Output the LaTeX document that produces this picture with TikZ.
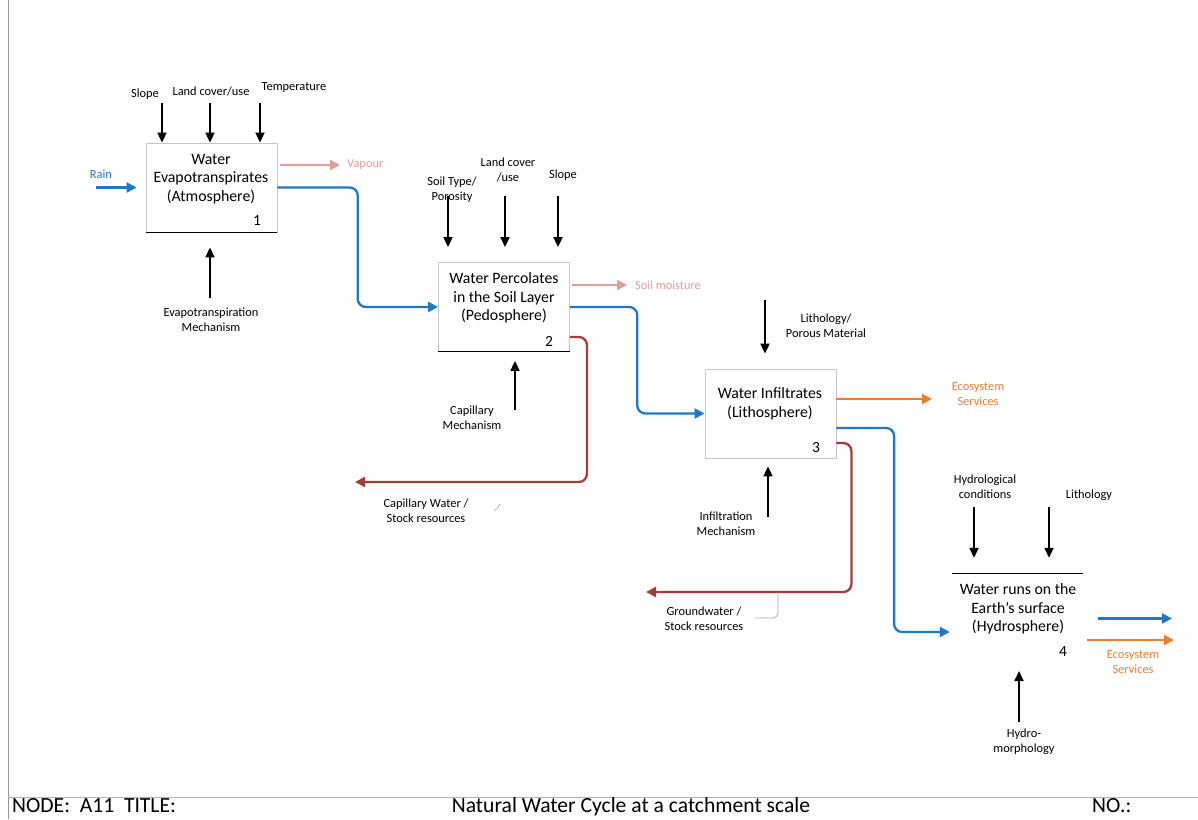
\documentclass[tikz,border=0pt]{standalone}
\usepackage{fontspec}
\setmainfont{Carlito}
\usetikzlibrary{arrows.meta,calc}
\definecolor{wblue}{HTML}{1F78C8}
\definecolor{wpink}{HTML}{E39C97}
\definecolor{wred}{HTML}{A33F38}
\definecolor{worange}{HTML}{EE7D2D}
\begin{document}
\begin{tikzpicture}[x=1pt,y=-1pt,
  procbox/.style={draw=gray!45, line width=0.8pt, minimum width=131pt, minimum height=89pt, inner sep=0pt, fill=white},
  boxtxt/.style={font=\fontsize{15.8}{18.5}\selectfont, align=center, inner sep=0pt},
  numlbl/.style={font=\fontsize{15.5}{17}\selectfont, inner sep=0pt},
  lbl/.style={font=\fontsize{12.4}{15}\selectfont, align=center, inner sep=0pt},
  foot/.style={font=\fontsize{21.6}{24}\selectfont, inner sep=0pt},
  ctrl/.style={draw=black, line width=1.8pt, -{Triangle[length=10pt,width=9pt]}},
  flow/.style={line width=2.3pt, rounded corners=8pt, -{Triangle[length=10pt,width=10pt]}},
  callout/.style={draw=gray!70, line width=0.7pt, rounded corners=5pt}
]
\useasboundingbox (0,0) rectangle (1198,819);

% sheet frame
\draw[gray!80, line width=0.8pt] (8,0) -- (8,819);
\draw[gray!60, line width=0.8pt] (8,797) -- (1198,797);
\node[foot, anchor=base west] (fnode) at (12,812.5) {NODE:\ \ A11\ \ TITLE:};
\node[foot, anchor=base] (ftitle) at (631,812.5) {Natural Water Cycle at a catchment scale};
\node[foot, anchor=base west] (fno) at (1092,812.5) {NO.:};

% ---- activity 1: atmosphere
\node[procbox] (b1) at (211.5,187.5) {};
\draw[line width=1pt] (b1.south west) -- (b1.south east);
\node[boxtxt] (b1t) at (211,179) {Water\\Evapotranspirates\\(Atmosphere)};
\node[numlbl] (b1n) at (257,221) {1};

\node[lbl] (l1a) at (145,94) {Slope};
\node[lbl] (l1b) at (211,91) {Land cover/use};
\node[lbl] (l1c) at (294,88) {Temperature};
\coordinate (c1a) at (162,103);
\coordinate (c1b) at (210,103);
\coordinate (c1c) at (260,103);
\draw[ctrl] (c1a) -- (c1a |- b1.north);
\draw[ctrl] (c1b) -- (c1b |- b1.north);
\draw[ctrl] (c1c) -- (c1c |- b1.north);

\node[lbl] (l1m) at (211,319.5) {Evapotranspiration\\Mechanism};
\coordinate (m1) at (210,298);
\draw[ctrl, shorten >=15pt] (m1) -- (m1 |- b1.south);

\node[lbl, text=wblue] (lrain) at (101,174) {Rain};
\coordinate (rain0) at (96,187.5);
\draw[flow, draw=wblue, shorten >=9pt] (rain0) -- (b1.west);

\coordinate (vap) at (340,165);
\draw[flow, draw=wpink] ([xshift=3pt]b1.east |- vap) -- (vap);
\node[lbl, text=wpink, anchor=west] (lvap) at (347,165) {Vapour};

% ---- activity 2: pedosphere
\node[procbox] (b2) at (504,307) {};
\draw[line width=1pt] (b2.south west) -- (b2.south east);
\node[boxtxt] (b2t) at (504,298) {Water Percolates\\in the Soil Layer\\(Pedosphere)};
\node[numlbl] (b2n) at (549,341) {2};

\node[lbl] (l2a) at (452,189.5) {Soil Type/\\Porosity};
\node[lbl] (l2b) at (508,169.5) {Land cover\\/use};
\node[lbl] (l2c) at (563,175) {Slope};
\coordinate (c2a) at (448,196);
\coordinate (c2b) at (505,196);
\coordinate (c2c) at (558,196);
\draw[ctrl, shorten >=15pt] (c2a) -- (c2a |- b2.north);
\draw[ctrl, shorten >=15pt] (c2b) -- (c2b |- b2.north);
\draw[ctrl, shorten >=15pt] (c2c) -- (c2c |- b2.north);

\node[lbl] (l2m) at (472,417.5) {Capillary\\Mechanism};
\coordinate (m2) at (515,410);
\draw[ctrl, shorten >=9pt] (m2) -- (m2 |- b2.south);

\coordinate (smo) at (627,285);
\draw[flow, draw=wpink] ([xshift=2pt]b2.east |- smo) -- (smo);
\node[lbl, text=wpink, anchor=west] (lsmo) at (635,285) {Soil moisture};

\draw[flow, draw=wblue] (b1.east) -| ($(b1.east)!.5!(b2.west)$) |- (b2.west);

\coordinate (capend) at (355,482);
\coordinate (r2c) at ([xshift=17pt]b2.east);
\draw[flow, draw=wred] ([yshift=-30pt]b2.east) -| (r2c |- capend) -- (capend);
\node[lbl] (lcap) at (426,510.5) {Capillary Water /\\Stock resources};
\draw[gray!70, line width=0.6pt] (494,511) .. controls (497,509) and (499,507) .. (500,504);

% ---- activity 3: lithosphere
\node[procbox] (b3) at (770.5,413.5) {};
\node[boxtxt] (b3t) at (770,404) {Water Infiltrates\\(Lithosphere)};
\node[numlbl] (b3n) at (816,448) {3};

\node[lbl] (l3a) at (826,325.5) {Lithology/\\Porous Material};
\coordinate (c3a) at (765,300);
\draw[ctrl, shorten >=15pt] (c3a) -- (c3a |- b3.north);

\node[lbl] (l3m) at (726,523.5) {Infiltration\\Mechanism};
\coordinate (m3) at (768,517);
\draw[ctrl, shorten >=8pt] (m3) -- (m3 |- b3.south);

\coordinate (eco3) at (932,399);
\draw[flow, draw=worange] (b3.east |- eco3) -- (eco3);
\node[lbl, text=worange] (leco3) at (978,394.5) {Ecosystem\\Services};

\draw[flow, draw=wblue] (b2.east) -| ($(b2.east)!.5!(b3.west)$) |- (b3.west);

\coordinate (gwend) at (646,592);
\coordinate (r3c) at ([xshift=15pt]b3.east);
\draw[flow, draw=wred] ([yshift=-29.5pt]b3.east) -| (r3c |- gwend) -- (gwend);
\node[lbl] (lgw) at (704,618.5) {Groundwater /\\Stock resources};
\coordinate (gwtap) at (778,592);
\draw[callout] (gwtap) -- (778,618) -- (755,618);

% ---- activity 4: hydrosphere
\node[minimum width=131pt, minimum height=89pt, inner sep=0pt] (b4) at (1017.5,618.5) {};
\draw[line width=1pt] (b4.north west) -- (b4.north east);
\node[boxtxt] (b4t) at (1018,609) {Water runs on the\\Earth's surface\\(Hydrosphere)};
\node[numlbl] (b4n) at (1063,652) {4};

\node[lbl] (l4a) at (985,486.5) {Hydrological\\conditions};
\node[lbl] (l4b) at (1089,495) {Lithology};
\coordinate (c4a) at (974,507);
\coordinate (c4b) at (1049,507);
\draw[ctrl, shorten >=16pt] (c4a) -- (c4a |- b4.north);
\draw[ctrl, shorten >=16pt] (c4b) -- (c4b |- b4.north);

\node[lbl] (l4m) at (1024,741.5) {Hydro-\\morphology};
\coordinate (m4) at (1019,722);
\coordinate (m4tip) at (1019,671);
\draw[ctrl] (m4) -- (m4tip);

\draw[flow, draw=wblue, shorten >=2pt] ([yshift=-14.5pt]b3.east) -| ($(b3.east)!.5!(b4.west)$) |- ([yshift=-13.5pt]b4.west);

\coordinate (out4) at (1172,618.5);
\draw[flow, draw=wblue] ([xshift=15pt]b4.east) -- (out4);
\coordinate (eco4) at (1174,640);
\draw[flow, draw=worange] ([xshift=4pt]b4.east |- eco4) -- (eco4);
\node[lbl, text=worange] (leco4) at (1133,662.5) {Ecosystem\\Services};
\end{tikzpicture}
\end{document}
